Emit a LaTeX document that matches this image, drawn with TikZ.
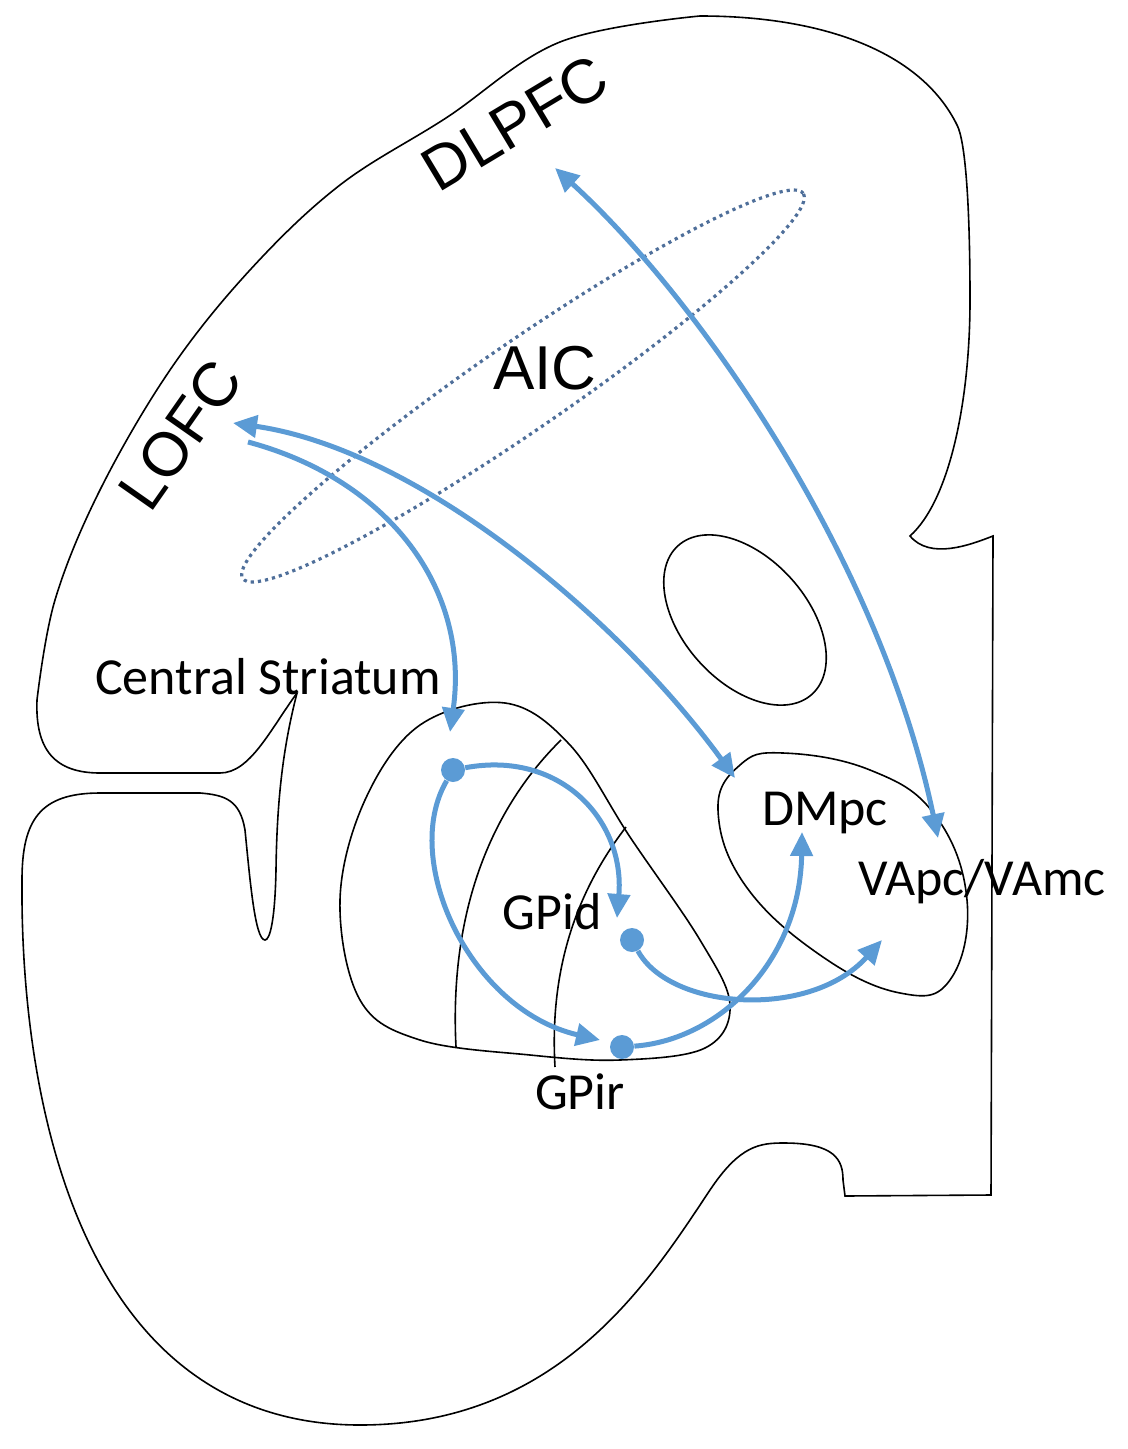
\documentclass[tikz,border=0pt]{standalone}
\usepackage{fontspec}
\setmainfont{Liberation Sans}
\newfontfamily\carlitofont{Carlito}
\usetikzlibrary{arrows.meta}
\definecolor{ablue}{HTML}{5B9BD5}
\definecolor{dblue}{HTML}{4F6F9A}
\begin{document}
\begin{tikzpicture}[x=0.5pt,y=-0.5pt,
  outline/.style={black,line width=0.8pt},
  conn/.style={ablue,line width=2.5pt,-{Triangle[length=12pt,width=11pt]}},
  bconn/.style={ablue,line width=2.5pt,{Triangle[length=12pt,width=11pt]}-{Triangle[length=12pt,width=11pt]}},
  dot/.style={circle,fill=ablue,inner sep=0pt,minimum size=12pt},
  big/.style={font=\fontsize{31}{31}\selectfont,inner sep=0pt},
  lab/.style={font=\carlitofont\fontsize{26}{26}\selectfont,inner sep=0pt}]
\useasboundingbox (0,0) rectangle (1128,1449);
% outer outline
\draw[outline] (297,693) .. controls (285,740) and (277,790) .. (276,870)
  .. controls (275,920) and (270,940) .. (265,940)
  .. controls (255,940) and (250,880) .. (245,830)
  .. controls (240,800) and (225,795) .. (200,793) -- (100,793)
  .. controls (40,793) and (22,820) .. (22,880)
  .. controls (20,1100) and (80,1425) .. (360,1425)
  .. controls (560,1425) and (650,1280) .. (710,1190)
  .. controls (740,1145) and (760,1143) .. (784,1143)
  .. controls (835,1143) and (843,1160) .. (843,1180) -- (845,1196) -- (991,1195) -- (993,536)
  .. controls (970,545) and (930,560) .. (910,536)
  .. controls (950,500) and (970,400) .. (970,300)
  .. controls (970,200) and (965,140) .. (957,125)
  .. controls (920,50) and (820,16) .. (700,16);
\draw[outline] plot[smooth,tension=0.6] coordinates {(700,16) (560,42) (446,118) (340,185) (250,270) (170,370) (100,490) (55,600) (37,700)};
\draw[outline] (37,700) .. controls (35,750) and (55,773) .. (100,773) -- (220,773)
  .. controls (250,773) and (270,730) .. (297,693);
% small oval
\draw[outline] (745,620) ellipse[x radius=50pt,y radius=31pt,rotate=-48];
% thalamus
\draw[outline] plot[smooth cycle,tension=0.7] coordinates {(783,753) (870,770) (935,815) (967,900) (950,980) (900,993) (820,955) (745,885) (718,810) (740,765)};
% GP
\draw[outline] plot[smooth cycle,tension=0.6] coordinates {(505,703) (570,745) (630,837) (700,940) (730,1005) (705,1048) (620,1060) (530,1055) (420,1040) (360,1000) (340,900) (365,800) (420,725)};
\draw[outline] (561,740) .. controls (480,820) and (450,930) .. (456,1047);
\draw[outline] (626,827) .. controls (570,900) and (550,980) .. (555,1067);
% AIC ellipse
\draw[dblue,line width=1.6pt,dotted] (523,386) ellipse[x radius=170pt,y radius=22pt,rotate=34.5];
% labels
\node[big,rotate=31] (dlpfc) at (515,123) {DLPFC};
\node[big,rotate=55] (lofc) at (180,435) {LOFC};
\node[big] (aic) at (545,368) {AIC};
\node[lab] (cs) at (268,677) {Central Striatum};
\node[lab] (dmpc) at (825,813) {DMpc};
\node[lab] (gpid) at (552,912) {GPid};
\node[lab] (gpir) at (580,1092) {GPir};
\node[lab] (vapc) at (982,882) {VApc/VAmc};
% coordinates
\coordinate (dlA) at (555,168);
\coordinate (vaA) at (938,838);
\coordinate (loA) at (233,423);
\coordinate (loB) at (248,442);
\coordinate (dmA) at (735,778);
\coordinate (stA) at (450,732);
\coordinate (gdA) at (617,918);
\coordinate (grA) at (600,1040);
\coordinate (vaB) at (882,940);
\coordinate (dmB) at (802,832);
\node[dot] (d1) at (453,770) {};
\node[dot] (d2) at (632,940) {};
\node[dot] (d3) at (622,1047) {};
% connectors
\draw[bconn] (dlA) .. controls (700,300) and (880,560) .. (vaA);
\draw[bconn] (loA) .. controls (420,450) and (620,620) .. (dmA);
\draw[conn] (loB) .. controls (390,480) and (470,590) .. (stA);
\draw[conn] (d1) .. controls (560,750) and (625,820) .. (gdA);
\draw[conn] (d1) .. controls (400,860) and (470,1010) .. (grA);
\draw[conn] (d2) .. controls (670,1010) and (810,1020) .. (vaB);
\draw[conn] (d3) .. controls (720,1040) and (800,960) .. (dmB);
\end{tikzpicture}
\end{document}
